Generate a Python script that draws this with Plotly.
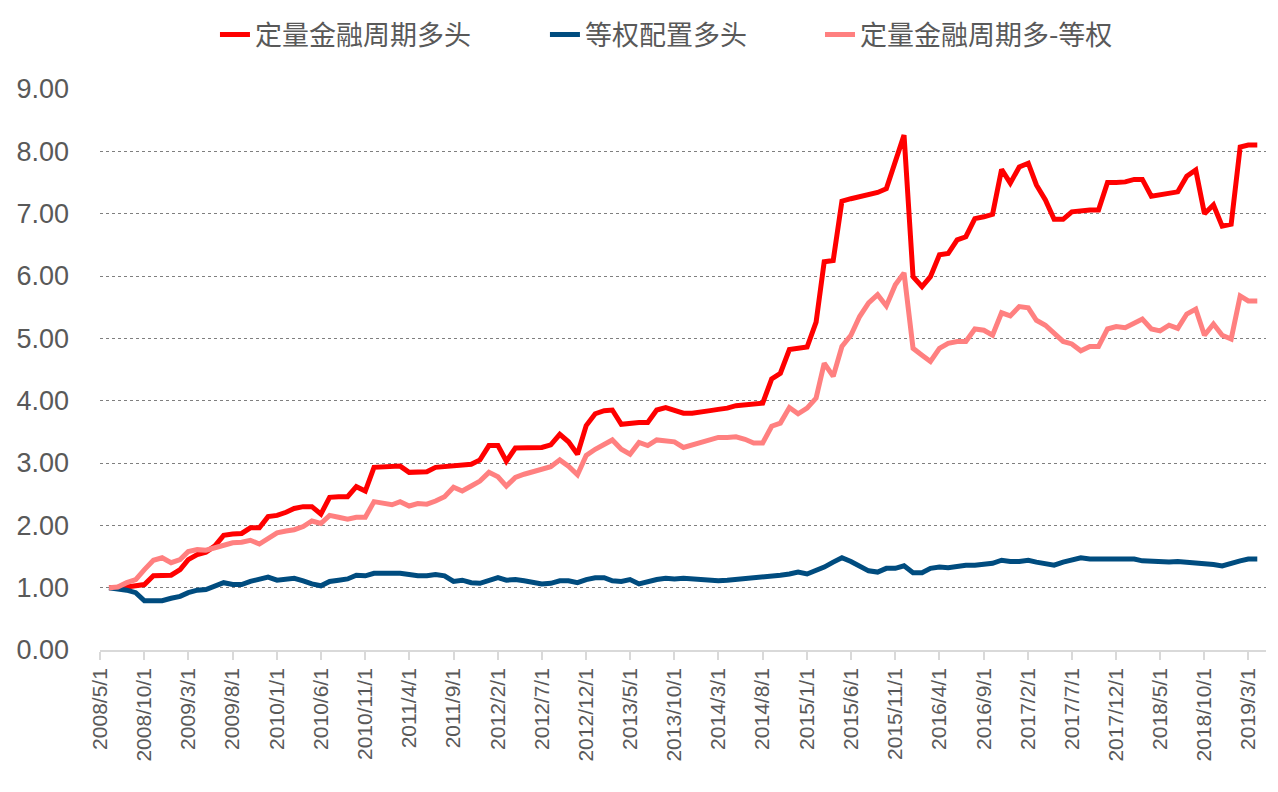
import pandas as pd
import plotly.graph_objects as go

# Monthly observation dates (2008/6 .. 2019/4)
dates = pd.date_range("2008-06-01", "2019-04-01", freq="MS")

series_red_name = "定量金融周期多头"
series_blue_name = "等权配置多头"
series_pink_name = "定量金融周期多-等权"

red_vals = [
    1.00, 1.00, 1.01, 1.03, 1.05, 1.19, 1.20, 1.20, 1.29, 1.45,
    1.53, 1.57, 1.67, 1.84, 1.86, 1.87, 1.96, 1.96, 2.14, 2.16,
    2.21, 2.27, 2.30, 2.30, 2.18, 2.45, 2.46, 2.46, 2.62, 2.55,
    2.93, 2.93, 2.94, 2.95, 2.85, 2.85, 2.86, 2.93, 2.94, 2.95,
    2.96, 2.98, 3.05, 3.28, 3.28, 3.03, 3.24, 3.24, 3.24, 3.25,
    3.29, 3.46, 3.34, 3.14, 3.60, 3.79, 3.84, 3.85, 3.62, 3.64,
    3.65, 3.65, 3.85, 3.89, 3.85, 3.80, 3.80, 3.81, 3.84, 3.86,
    3.88, 3.92, 3.94, 3.95, 3.96, 4.35, 4.44, 4.82, 4.84, 4.86,
    5.26, 6.23, 6.25, 7.20, 7.24, 7.27, 7.30, 7.34, 7.40, 7.83,
    8.26, 5.99, 5.83, 5.99, 6.34, 6.36, 6.58, 6.63, 6.92, 6.95,
    6.99, 7.71, 7.49, 7.75, 7.81, 7.46, 7.22, 6.91, 6.91, 7.03,
    7.05, 7.06, 7.06, 7.50, 7.50, 7.51, 7.55, 7.55, 7.28, 7.30,
    7.33, 7.35, 7.60, 7.70, 7.00, 7.14, 6.80, 6.83, 8.07, 8.10,
    8.10,
]

blue_vals = [
    1.00, 0.99, 0.96, 0.92, 0.79, 0.79, 0.79, 0.83, 0.86, 0.92,
    0.96, 0.97, 1.02, 1.08, 1.05, 1.05, 1.10, 1.14, 1.17, 1.12,
    1.14, 1.15, 1.11, 1.06, 1.03, 1.10, 1.12, 1.14, 1.20, 1.19,
    1.23, 1.23, 1.25, 1.23, 1.21, 1.19, 1.19, 1.21, 1.19, 1.10,
    1.12, 1.08, 1.07, 1.12, 1.16, 1.12, 1.13, 1.11, 1.09, 1.06,
    1.07, 1.11, 1.11, 1.08, 1.13, 1.16, 1.16, 1.11, 1.10, 1.13,
    1.06, 1.10, 1.13, 1.15, 1.14, 1.15, 1.14, 1.13, 1.12, 1.11,
    1.12, 1.13, 1.15, 1.17, 1.18, 1.19, 1.20, 1.22, 1.25, 1.22,
    1.27, 1.33, 1.41, 1.48, 1.42, 1.34, 1.27, 1.25, 1.31, 1.31,
    1.35, 1.24, 1.24, 1.31, 1.33, 1.32, 1.35, 1.36, 1.36, 1.37,
    1.39, 1.44, 1.42, 1.42, 1.44, 1.41, 1.38, 1.36, 1.41, 1.44,
    1.48, 1.46, 1.46, 1.47, 1.47, 1.47, 1.46, 1.43, 1.42, 1.43,
    1.41, 1.42, 1.41, 1.40, 1.38, 1.37, 1.35, 1.38, 1.43, 1.46,
    1.46,
]

pink_vals = [
    1.00, 1.01, 1.08, 1.13, 1.29, 1.44, 1.48, 1.40, 1.45, 1.58,
    1.61, 1.60, 1.64, 1.68, 1.72, 1.73, 1.76, 1.70, 1.80, 1.88,
    1.91, 1.93, 1.98, 2.07, 2.03, 2.16, 2.13, 2.10, 2.13, 2.13,
    2.38, 2.36, 2.33, 2.38, 2.31, 2.35, 2.34, 2.39, 2.46, 2.61,
    2.55, 2.63, 2.71, 2.85, 2.78, 2.63, 2.77, 2.82, 2.86, 2.90,
    2.94, 3.05, 2.95, 2.81, 3.12, 3.22, 3.29, 3.37, 3.22, 3.14,
    3.33, 3.28, 3.37, 3.35, 3.34, 3.25, 3.29, 3.32, 3.36, 3.41,
    3.41, 3.42, 3.38, 3.32, 3.32, 3.59, 3.64, 3.89, 3.79, 3.88,
    4.04, 4.60, 4.39, 4.87, 5.05, 5.35, 5.57, 5.70, 5.52, 5.86,
    6.05, 4.84, 4.73, 4.63, 4.84, 4.92, 4.95, 4.95, 5.15, 5.13,
    5.05, 5.41, 5.36, 5.51, 5.49, 5.29, 5.21, 5.08, 4.95, 4.91,
    4.80, 4.87, 4.87, 5.15, 5.19, 5.17, 5.24, 5.31, 5.15, 5.12,
    5.21, 5.16, 5.39, 5.47, 5.05, 5.23, 5.05, 4.99, 5.68, 5.60,
    5.60,
]

tick_dates = [
    "2008-05-01", "2008-10-01", "2009-03-01", "2009-08-01", "2010-01-01",
    "2010-06-01", "2010-11-01", "2011-04-01", "2011-09-01", "2012-02-01",
    "2012-07-01", "2012-12-01", "2013-05-01", "2013-10-01", "2014-03-01",
    "2014-08-01", "2015-01-01", "2015-06-01", "2015-11-01", "2016-04-01",
    "2016-09-01", "2017-02-01", "2017-07-01", "2017-12-01", "2018-05-01",
    "2018-10-01", "2019-03-01",
]
tick_labels = [
    "2008/5/1", "2008/10/1", "2009/3/1", "2009/8/1", "2010/1/1",
    "2010/6/1", "2010/11/1", "2011/4/1", "2011/9/1", "2012/2/1",
    "2012/7/1", "2012/12/1", "2013/5/1", "2013/10/1", "2014/3/1",
    "2014/8/1", "2015/1/1", "2015/6/1", "2015/11/1", "2016/4/1",
    "2016/9/1", "2017/2/1", "2017/7/1", "2017/12/1", "2018/5/1",
    "2018/10/1", "2019/3/1",
]
y_ticks = [0, 1, 2, 3, 4, 5, 6, 7, 8, 9]

RED = "#FF0000"
BLUE = "#004C7F"
PINK = "#FF8080"
TXT = "#595959"

fig = go.Figure()
fig.add_trace(go.Scatter(x=dates, y=red_vals, name=series_red_name, mode="lines",
                         line=dict(color=RED, width=5), legend="legend"))
fig.add_trace(go.Scatter(x=dates, y=blue_vals, name=series_blue_name, mode="lines",
                         line=dict(color=BLUE, width=5), legend="legend2"))
fig.add_trace(go.Scatter(x=dates, y=pink_vals, name=series_pink_name, mode="lines",
                         line=dict(color=PINK, width=5), legend="legend3"))

leg_common = dict(
    orientation="h", xanchor="left", yref="container", y=0.956, yanchor="middle",
    font=dict(family="Noto Sans CJK SC", size=27, color=TXT),
    bgcolor="rgba(0,0,0,0)", borderwidth=0,
)

fig.update_layout(
    width=1278, height=792,
    paper_bgcolor="white", plot_bgcolor="white",
    margin=dict(l=100, r=12, t=89, b=142, autoexpand=False),
    font=dict(family="Liberation Sans, Arial, sans-serif", color=TXT),
    showlegend=True,
    legend=dict(x=0.0986, **leg_common),
    legend2=dict(x=0.3816, **leg_common),
    legend3=dict(x=0.6175, **leg_common),
)
fig.update_xaxes(
    type="date", automargin=False,
    range=["2008-05-01", "2019-05-01"],
    tickmode="array", tickvals=tick_dates, ticktext=tick_labels,
    tickangle=-90, tickfont=dict(size=21, color=TXT),
    ticks="outside", ticklen=8, tickcolor="#D9D9D9", tickwidth=1.5,
    showline=True, linecolor="#D9D9D9", linewidth=1.5,
    showgrid=False, zeroline=False,
)
fig.update_yaxes(
    range=[0, 9], automargin=False, tickmode="array", tickvals=y_ticks,
    tickformat=".2f", tickfont=dict(size=27, color=TXT),
    showgrid=True, gridcolor="#7F7F7F", gridwidth=1, griddash="dot",
    zeroline=False, showline=False, ticks="", ticklabelstandoff=30,
)

fig.write_html("out.html", config={"displayModeBar": False},
               post_script="document.body.style.margin='0';document.body.style.padding='0';")
